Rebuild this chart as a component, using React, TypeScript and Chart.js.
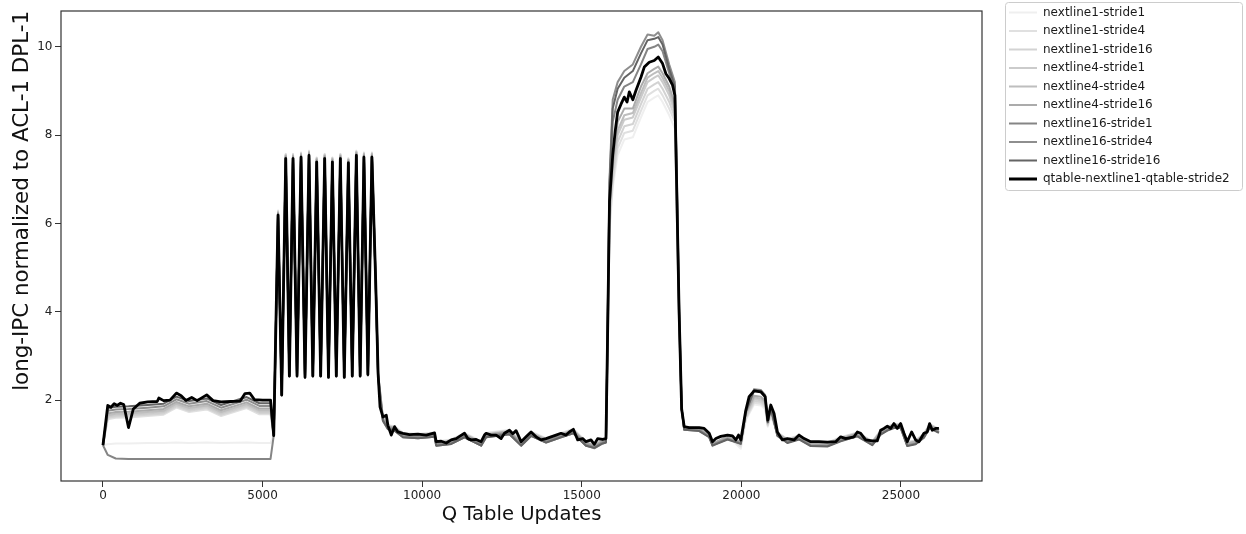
import React, { useEffect, useRef } from "react";
import { Chart, registerables } from "chart.js";

Chart.register(...registerables);

const X_TICKS = [0, 5000, 10000, 15000, 20000, 25000];
const Y_TICKS = [2, 4, 6, 8, 10];

const SERIES_NAMES = [
  "nextline1-stride1",
  "nextline1-stride4",
  "nextline1-stride16",
  "nextline4-stride1",
  "nextline4-stride4",
  "nextline4-stride16",
  "nextline16-stride1",
  "nextline16-stride4",
  "nextline16-stride16",
  "qtable-nextline1-qtable-stride2",
];
const SERIES_COLORS = [
  "#efefef", "#e0e0e0", "#d3d3d3", "#cbcbcb", "#bebebe",
  "#ababab", "#858585", "#8e8e8e", "#646464", "#000000",
];
const SERIES_WIDTHS = [2, 2, 2, 2, 2, 2, 2, 2, 2, 2.8];

// qtable-nextline1-qtable-stride2 (black) — finer sampling
const X_QTABLE = [
  0, 150, 250, 350, 450, 550, 650, 800, 950, 1150, 1400, 1700, 1750, 1900, 2100, 2300, 2450, 2600, 2780, 2950, 3250, 3450, 3700, 4000, 4300, 4450, 4600, 4750, 5000, 5250, 5350,
  5485, 5600, 5726, 5840, 5954, 6080, 6205, 6330, 6455, 6575, 6696, 6820, 6946, 7065, 7187, 7310, 7437, 7560, 7688, 7810, 7938, 8057, 8176, 8300, 8426,
  8540, 8620, 8680,
  8770, 8876, 8927, 9033, 9136, 9240, 9400, 9606, 9867, 10128, 10388, 10440, 10597, 10754, 10910, 11067, 11171, 11327, 11431, 11536, 11692, 11848, 11952, 12005, 12161,
  12318, 12474, 12578, 12735, 12839, 12943, 13100, 13256, 13412, 13569, 13725, 13882, 14038, 14195, 14351, 14508, 14612, 14737, 14873, 15029, 15133, 15290, 15394, 15498, 15655, 15759,
  15800, 15870, 15970, 16050, 16125, 16230, 16333, 16420, 16490, 16600, 16698, 16855, 16959, 17115, 17272, 17397, 17532, 17637, 17741, 17845, 17918, 17970, 18050, 18130, 18210,
  18366, 18680, 18836, 18993, 19097, 19202, 19358, 19567, 19723, 19828, 19911, 19984, 20035, 20140, 20244, 20400, 20610, 20745, 20828, 20922, 21026, 21130, 21287, 21443, 21652,
  21808, 21965, 22173, 22434, 22695, 22956, 23113, 23269, 23530, 23635, 23739, 23895, 24104, 24261, 24365, 24469, 24574, 24678, 24782, 24887, 24991, 25095, 25199, 25335, 25460,
  25564, 25721, 25825, 25898, 25981, 26086, 26190,
];
const Y_QTABLE = [
  0.98, 1.88, 1.84, 1.92, 1.88, 1.93, 1.90, 1.38, 1.80, 1.93, 1.96, 1.97, 2.05, 1.99, 2.00, 2.16, 2.10, 1.99, 2.06, 1.99, 2.12, 1.99, 1.96, 1.97, 1.98, 2.15, 2.16, 2.01, 2.00, 2.00, 1.20,
  6.19, 2.12, 7.47, 2.55, 7.47, 2.55, 7.50, 2.52, 7.54, 2.55, 7.39, 2.55, 7.47, 2.52, 7.39, 2.55, 7.47, 2.52, 7.37, 2.55, 7.54, 2.55, 7.50, 2.58, 7.50,
  4.8, 2.6, 1.85,
  1.62, 1.66, 1.43, 1.21, 1.40, 1.28, 1.25, 1.22, 1.23, 1.21, 1.26, 1.06, 1.07, 1.03, 1.10, 1.13, 1.18, 1.25, 1.13, 1.10, 1.11, 1.06, 1.21, 1.25, 1.21,
  1.21, 1.13, 1.25, 1.32, 1.24, 1.31, 1.06, 1.17, 1.28, 1.17, 1.10, 1.13, 1.17, 1.21, 1.25, 1.21, 1.28, 1.34, 1.10, 1.13, 1.06, 1.10, 1.00, 1.13, 1.11, 1.13,
  3.0, 6.5, 7.54, 8.10, 8.52, 8.70, 8.86, 8.75, 8.98, 8.80, 9.01, 9.31, 9.54, 9.65, 9.69, 9.77, 9.62, 9.39, 9.28, 9.13, 8.90, 7.0, 4.0, 1.8, 1.40,
  1.38, 1.38, 1.36, 1.25, 1.06, 1.13, 1.18, 1.21, 1.19, 1.10, 1.21, 1.10, 1.32, 1.77, 2.08, 2.21, 2.19, 2.08, 1.55, 1.89, 1.70, 1.28, 1.10, 1.13, 1.10,
  1.21, 1.13, 1.06, 1.06, 1.05, 1.06, 1.17, 1.13, 1.17, 1.28, 1.25, 1.10, 1.08, 1.08, 1.32, 1.36, 1.41, 1.36, 1.47, 1.36, 1.47, 1.25, 1.06, 1.28, 1.10,
  1.06, 1.25, 1.28, 1.47, 1.32, 1.36, 1.36,
];

// shared x positions for the nine grey configurations
const X_GRAY = [
  0, 150, 400, 800, 1400, 1900, 2300, 2700, 3250, 3700, 4500, 4900, 5250, 5350,
  5485, 5600, 5726, 5840, 5954, 6080, 6205, 6330, 6455, 6575, 6696, 6820, 6946, 7065, 7187, 7310, 7437, 7560, 7688, 7810, 7938, 8057, 8176, 8300, 8426,
  8540, 8620, 8770, 8927, 9136, 9400, 9870, 10388, 10440, 10910, 11327, 11848, 12005, 12735, 13100, 13412, 13882, 14351, 14737, 15133, 15394, 15655, 15759,
  15800, 15870, 15970, 16125, 16333, 16600, 16855, 17062, 17272, 17397, 17532, 17741, 17918, 17970, 18050, 18130, 18210,
  18680, 18993, 19097, 19567, 19984, 20140, 20400, 20610, 20745, 20828, 20922, 21130, 21443, 21808, 22173, 22695, 23113, 23635, 24104, 24365, 24574, 24782, 24991, 25199, 25460, 25721, 25898, 26190,
];

const Y_N1S1 = [
  0.98, 1.00, 1.02, 1.02, 1.03, 1.03, 1.04, 1.03, 1.04, 1.03, 1.04, 1.03, 1.03, 1.20,
  6.30, 2.15, 7.58, 2.58, 7.58, 2.58, 7.61, 2.55, 7.65, 2.58, 7.50, 2.58, 7.58, 2.55, 7.50, 2.58, 7.58, 2.55, 7.48, 2.58, 7.65, 2.58, 7.61, 2.61, 7.61,
  4.84, 2.62, 1.63, 1.44, 1.41, 1.26, 1.24, 1.27, 1.07, 1.11, 1.26, 1.07, 1.26, 1.33, 1.07, 1.29, 1.14, 1.26, 1.35, 1.07, 1.01, 1.12, 1.14,
  2.5, 5.8, 6.8, 7.55, 7.9, 7.95, 8.4, 8.75, 8.85, 8.9, 8.75, 8.45, 8.15, 6.4, 3.7, 1.8, 1.40,
  1.38, 1.24, 0.95, 1.20, 0.90, 1.55, 1.90, 1.88, 1.80, 1.40, 1.65, 1.25, 1.11, 1.18, 1.05, 1.03, 1.15, 1.25, 1.07, 1.30, 1.38, 1.44, 1.44, 1.05, 1.09, 1.23, 1.44, 1.34,
];
const Y_N1S4 = [
  0.98, 1.57, 1.60, 1.61, 1.64, 1.67, 1.83, 1.73, 1.79, 1.64, 1.82, 1.68, 1.68, 1.20,
  6.28, 2.14, 7.57, 2.57, 7.57, 2.57, 7.60, 2.54, 7.64, 2.57, 7.49, 2.57, 7.57, 2.54, 7.49, 2.57, 7.57, 2.54, 7.47, 2.57, 7.64, 2.57, 7.60, 2.60, 7.60,
  4.83, 2.61, 1.62, 1.43, 1.40, 1.25, 1.23, 1.26, 1.06, 1.10, 1.25, 1.06, 1.25, 1.32, 1.06, 1.28, 1.13, 1.25, 1.34, 1.06, 1.00, 1.11, 1.13,
  2.6, 5.9, 6.9, 7.7, 8.05, 8.1, 8.55, 8.9, 9.0, 9.05, 8.9, 8.6, 8.3, 6.5, 3.7, 1.8, 1.40,
  1.38, 1.25, 0.97, 1.20, 0.95, 1.57, 1.94, 1.92, 1.84, 1.42, 1.67, 1.27, 1.12, 1.20, 1.05, 1.04, 1.16, 1.27, 1.07, 1.31, 1.40, 1.46, 1.46, 1.05, 1.09, 1.24, 1.46, 1.35,
];
const Y_N1S16 = [
  0.98, 1.60, 1.63, 1.64, 1.67, 1.70, 1.86, 1.76, 1.82, 1.67, 1.85, 1.71, 1.71, 1.20,
  6.27, 2.13, 7.56, 2.56, 7.56, 2.56, 7.59, 2.53, 7.63, 2.56, 7.48, 2.56, 7.56, 2.53, 7.48, 2.56, 7.56, 2.53, 7.46, 2.56, 7.63, 2.56, 7.59, 2.59, 7.59,
  4.82, 2.60, 1.61, 1.42, 1.39, 1.24, 1.22, 1.25, 1.05, 1.09, 1.24, 1.05, 1.24, 1.31, 1.05, 1.27, 1.12, 1.24, 1.33, 1.05, 0.99, 1.10, 1.12,
  2.7, 6.0, 7.0, 7.85, 8.2, 8.25, 8.7, 9.05, 9.15, 9.2, 9.05, 8.75, 8.4, 6.6, 3.8, 1.8, 1.39,
  1.37, 1.24, 0.98, 1.19, 1.00, 1.60, 1.98, 1.96, 1.88, 1.44, 1.70, 1.26, 1.11, 1.19, 1.04, 1.03, 1.15, 1.26, 1.06, 1.30, 1.39, 1.45, 1.45, 1.04, 1.08, 1.23, 1.45, 1.34,
];
const Y_N4S1 = [
  0.98, 1.63, 1.66, 1.67, 1.70, 1.73, 1.89, 1.79, 1.85, 1.70, 1.88, 1.74, 1.74, 1.20,
  6.26, 2.13, 7.55, 2.56, 7.55, 2.56, 7.58, 2.53, 7.62, 2.56, 7.47, 2.56, 7.55, 2.53, 7.47, 2.56, 7.55, 2.53, 7.45, 2.56, 7.62, 2.56, 7.58, 2.59, 7.58,
  4.82, 2.60, 1.60, 1.41, 1.38, 1.23, 1.21, 1.24, 1.04, 1.08, 1.23, 1.04, 1.23, 1.30, 1.04, 1.26, 1.11, 1.23, 1.32, 1.04, 0.98, 1.09, 1.11,
  2.8, 6.1, 7.2, 8.0, 8.35, 8.4, 8.85, 9.2, 9.3, 9.35, 9.2, 8.9, 8.5, 6.7, 3.8, 1.8, 1.39,
  1.36, 1.23, 1.00, 1.18, 1.03, 1.64, 2.02, 2.00, 1.92, 1.46, 1.74, 1.25, 1.10, 1.18, 1.03, 1.02, 1.14, 1.25, 1.05, 1.29, 1.38, 1.44, 1.44, 1.03, 1.07, 1.22, 1.44, 1.33,
];
const Y_N4S4 = [
  0.98, 1.66, 1.69, 1.70, 1.73, 1.76, 1.92, 1.82, 1.88, 1.73, 1.91, 1.77, 1.77, 1.20,
  6.25, 2.12, 7.54, 2.55, 7.54, 2.55, 7.57, 2.52, 7.61, 2.55, 7.46, 2.55, 7.54, 2.52, 7.46, 2.55, 7.54, 2.52, 7.44, 2.55, 7.61, 2.55, 7.57, 2.58, 7.57,
  4.80, 2.58, 1.59, 1.40, 1.37, 1.22, 1.20, 1.23, 1.03, 1.07, 1.22, 1.03, 1.22, 1.29, 1.03, 1.25, 1.10, 1.22, 1.31, 1.03, 0.97, 1.08, 1.10,
  2.9, 6.2, 7.3, 8.1, 8.45, 8.5, 8.95, 9.3, 9.4, 9.45, 9.3, 9.0, 8.6, 6.8, 3.9, 1.8, 1.38,
  1.35, 1.22, 1.01, 1.17, 1.05, 1.68, 2.06, 2.04, 1.95, 1.48, 1.77, 1.24, 1.09, 1.17, 1.02, 1.01, 1.13, 1.24, 1.04, 1.28, 1.37, 1.43, 1.43, 1.02, 1.06, 1.21, 1.43, 1.32,
];
const Y_N4S16 = [
  0.98, 1.70, 1.73, 1.74, 1.77, 1.80, 1.96, 1.86, 1.92, 1.77, 1.95, 1.81, 1.81, 1.20,
  6.24, 2.12, 7.53, 2.55, 7.53, 2.55, 7.56, 2.52, 7.60, 2.55, 7.45, 2.55, 7.53, 2.52, 7.45, 2.55, 7.53, 2.52, 7.43, 2.55, 7.60, 2.55, 7.56, 2.58, 7.56,
  4.80, 2.58, 1.59, 1.40, 1.37, 1.22, 1.20, 1.23, 1.03, 1.07, 1.22, 1.03, 1.22, 1.29, 1.03, 1.25, 1.10, 1.22, 1.31, 1.03, 0.97, 1.08, 1.10,
  2.9, 6.3, 7.4, 8.3, 8.6, 8.6, 9.1, 9.4, 9.5, 9.55, 9.4, 9.1, 8.7, 6.9, 3.9, 1.8, 1.38,
  1.35, 1.22, 1.02, 1.17, 1.06, 1.70, 2.10, 2.08, 1.98, 1.50, 1.80, 1.24, 1.09, 1.17, 1.02, 1.01, 1.13, 1.24, 1.04, 1.28, 1.37, 1.43, 1.43, 1.02, 1.06, 1.21, 1.43, 1.32,
];
const Y_N16S1 = [
  0.98, 0.76, 0.68, 0.67, 0.67, 0.67, 0.67, 0.67, 0.67, 0.67, 0.67, 0.67, 0.67, 1.20,
  6.18, 2.12, 7.46, 2.55, 7.46, 2.55, 7.49, 2.52, 7.53, 2.55, 7.38, 2.55, 7.46, 2.52, 7.38, 2.55, 7.46, 2.52, 7.36, 2.55, 7.53, 2.55, 7.49, 2.58, 7.49,
  4.74, 2.50, 1.53, 1.34, 1.31, 1.16, 1.14, 1.17, 0.97, 1.01, 1.16, 0.97, 1.16, 1.23, 0.97, 1.19, 1.04, 1.16, 1.25, 0.97, 0.91, 1.02, 1.04,
  3.0, 6.8, 8.3, 8.8, 9.1, 9.2, 9.6, 9.95, 10.0, 10.05, 9.9, 9.4, 9.0, 7.2, 4.0, 1.8, 1.33,
  1.31, 1.17, 0.98, 1.12, 1.02, 1.73, 2.21, 2.19, 2.08, 1.50, 1.82, 1.20, 1.04, 1.12, 0.97, 0.96, 1.08, 1.19, 0.99, 1.23, 1.32, 1.38, 1.38, 0.97, 1.01, 1.16, 1.38, 1.27,
];
const Y_N16S4 = [
  0.98, 1.76, 1.79, 1.80, 1.83, 1.86, 2.02, 1.92, 1.98, 1.83, 2.01, 1.87, 1.87, 1.20,
  6.22, 2.11, 7.50, 2.54, 7.50, 2.54, 7.53, 2.51, 7.57, 2.54, 7.42, 2.54, 7.50, 2.51, 7.42, 2.54, 7.50, 2.51, 7.40, 2.54, 7.57, 2.54, 7.53, 2.57, 7.53,
  4.78, 2.55, 1.56, 1.37, 1.34, 1.19, 1.17, 1.20, 1.00, 1.04, 1.19, 1.00, 1.19, 1.26, 1.00, 1.22, 1.07, 1.19, 1.28, 1.00, 0.94, 1.05, 1.07,
  3.2, 7.0, 8.8, 9.2, 9.45, 9.6, 10.0, 10.28, 10.25, 10.33, 10.15, 9.6, 9.2, 7.4, 4.2, 1.8, 1.35,
  1.32, 1.18, 0.99, 1.13, 1.03, 1.76, 2.25, 2.23, 2.12, 1.52, 1.85, 1.21, 1.05, 1.13, 0.98, 0.97, 1.09, 1.20, 1.00, 1.24, 1.33, 1.39, 1.39, 0.98, 1.02, 1.17, 1.39, 1.28,
];
const Y_N16S16 = [
  0.98, 1.82, 1.85, 1.86, 1.89, 1.92, 2.08, 1.98, 2.04, 1.89, 2.07, 1.93, 1.93, 1.20,
  6.20, 2.10, 7.48, 2.53, 7.48, 2.53, 7.50, 2.50, 7.55, 2.53, 7.40, 2.53, 7.48, 2.50, 7.40, 2.53, 7.48, 2.50, 7.38, 2.53, 7.55, 2.53, 7.51, 2.56, 7.51,
  4.75, 2.52, 1.54, 1.35, 1.31, 1.16, 1.14, 1.17, 0.97, 1.01, 1.16, 0.97, 1.16, 1.23, 0.97, 1.19, 1.04, 1.16, 1.25, 0.97, 0.92, 1.02, 1.04,
  3.1, 6.9, 8.6, 9.05, 9.3, 9.45, 9.85, 10.15, 10.18, 10.22, 10.05, 9.5, 9.1, 7.3, 4.1, 1.8, 1.33,
  1.30, 1.16, 0.97, 1.11, 1.01, 1.74, 2.23, 2.21, 2.10, 1.50, 1.83, 1.19, 1.03, 1.11, 0.96, 0.95, 1.07, 1.18, 0.98, 1.22, 1.31, 1.37, 1.37, 0.96, 1.00, 1.15, 1.37, 1.26,
];

const SERIES_X = [X_GRAY, X_GRAY, X_GRAY, X_GRAY, X_GRAY, X_GRAY, X_GRAY, X_GRAY, X_GRAY, X_QTABLE];
const SERIES_Y = [Y_N1S1, Y_N1S4, Y_N1S16, Y_N4S1, Y_N4S4, Y_N4S16, Y_N16S1, Y_N16S4, Y_N16S16, Y_QTABLE];

const FONT = "'DejaVu Sans', 'Liberation Sans', sans-serif";
const AXIS_COLOR = "#333333";

export default function App() {
  const ref = useRef<HTMLCanvasElement>(null);

  useEffect(() => {
    document.body.style.margin = "0";
    const canvas = ref.current;
    if (!canvas) return;

    const framePlugin = {
      id: "frameAndLegendBox",
      afterLayout(chart: any) {
        const lg = chart.legend;
        if (lg) {
          lg.left = 1002.5;
          lg.right = 1246;
          lg.top = 0;
          lg.bottom = 534;
        }
      },
      afterDraw(chart: any) {
        const { ctx, chartArea } = chart;
        ctx.save();
        ctx.strokeStyle = AXIS_COLOR;
        ctx.lineWidth = 1.2;
        ctx.strokeRect(chartArea.left, chartArea.top, chartArea.right - chartArea.left, chartArea.bottom - chartArea.top);
        // legend frame
        const x0 = 1005.5, y0 = 2.5, x1 = 1242.5, y1 = 190.5, r = 3;
        ctx.strokeStyle = "#cccccc";
        ctx.lineWidth = 1;
        ctx.beginPath();
        ctx.moveTo(x0 + r, y0);
        ctx.lineTo(x1 - r, y0);
        ctx.arcTo(x1, y0, x1, y0 + r, r);
        ctx.lineTo(x1, y1 - r);
        ctx.arcTo(x1, y1, x1 - r, y1, r);
        ctx.lineTo(x0 + r, y1);
        ctx.arcTo(x0, y1, x0, y1 - r, r);
        ctx.lineTo(x0, y0 + r);
        ctx.arcTo(x0, y0, x0 + r, y0, r);
        ctx.closePath();
        ctx.stroke();
        ctx.restore();
      },
    };

    const datasets = SERIES_NAMES.map((name, i) => ({
      label: name,
      data: SERIES_X[i].map((x, j) => ({ x, y: SERIES_Y[i][j] })),
      borderColor: SERIES_COLORS[i],
      backgroundColor: SERIES_COLORS[i],
      pointBorderColor: SERIES_COLORS[i],
      borderWidth: SERIES_WIDTHS[i],
      pointBorderWidth: SERIES_WIDTHS[i],
      pointRadius: 0,
      pointHoverRadius: 0,
      pointStyle: "line",
      tension: 0,
      borderJoinStyle: "round" as const,
      fill: false,
      order: SERIES_NAMES.length - 1 - i,
    }));

    const chart = new Chart(canvas, {
      type: "line",
      data: { datasets },
      plugins: [framePlugin],
      options: {
        animation: false,
        responsive: false,
        devicePixelRatio: 1,
        events: [],
        layout: { padding: { left: 0, top: 11, right: 34, bottom: 0 } },
        plugins: {
          tooltip: { enabled: false },
          legend: {
            display: true,
            position: "right",
            align: "start",
            maxWidth: 230,
            labels: {
              usePointStyle: true,
              pointStyle: "line",
              pointStyleWidth: 28,
              padding: 6.5,
              color: "#1a1a1a",
              font: { family: FONT, size: 12 },
              sort: (a: any, b: any) => a.datasetIndex - b.datasetIndex,
            },
          },
        },
        scales: {
          x: {
            type: "linear",
            min: -1315,
            max: 27540,
            afterBuildTicks: (axis: any) => {
              axis.ticks = X_TICKS.map((v) => ({ value: v }));
            },
            afterFit: (scale: any) => {
              scale.height = 53;
            },
            ticks: {
              color: "#222222",
              font: { family: FONT, size: 12 },
              padding: 2,
              maxRotation: 0,
              autoSkip: false,
              callback: (v: any) => String(v),
            },
            grid: {
              drawOnChartArea: false,
              drawTicks: true,
              tickLength: 6,
              color: AXIS_COLOR,
              tickColor: AXIS_COLOR,
            },
            border: { display: false },
            title: {
              display: true,
              text: "Q Table Updates",
              color: "#111111",
              font: { family: FONT, size: 19.6 },
              padding: { top: 0, bottom: 7.2 },
            },
          },
          y: {
            type: "linear",
            min: 0.17,
            max: 10.81,
            afterBuildTicks: (axis: any) => {
              axis.ticks = Y_TICKS.map((v) => ({ value: v }));
            },
            afterFit: (scale: any) => {
              scale.width = 61;
            },
            ticks: {
              color: "#222222",
              font: { family: FONT, size: 12 },
              padding: 2.5,
              autoSkip: false,
              callback: (v: any) => String(v),
            },
            grid: {
              drawOnChartArea: false,
              drawTicks: true,
              tickLength: 6,
              color: AXIS_COLOR,
              tickColor: AXIS_COLOR,
            },
            border: { display: false },
            title: {
              display: true,
              text: "long-IPC normalized to ACL-1 DPL-1",
              color: "#111111",
              align: "end",
              font: { family: FONT, size: 21.4 },
              padding: { top: 10, bottom: 0 },
            },
          },
        },
      },
    });

    return () => chart.destroy();
  }, []);

  return (
    <div style={{ position: "absolute", left: 0, top: 0, width: 1246, height: 534 }}>
      <canvas ref={ref} width={1246} height={534} style={{ width: 1246, height: 534, display: "block" }} />
    </div>
  );
}
